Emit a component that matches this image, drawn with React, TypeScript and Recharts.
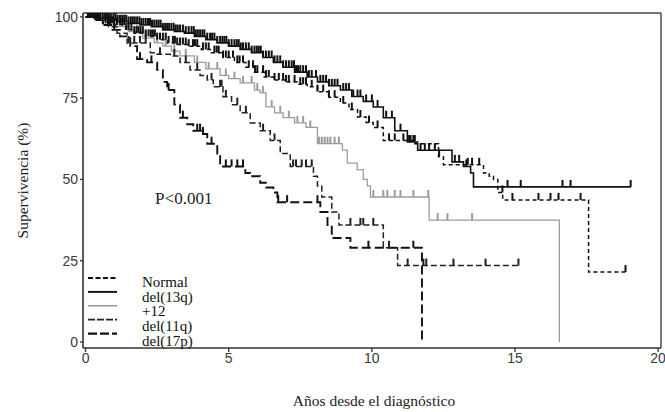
import React from 'react';
import { ComposedChart, Line, Scatter, XAxis, YAxis, ReferenceLine, ReferenceDot } from 'recharts';

// ---------- DATA ----------
const seriesNames = ['Normal', 'del(13q)', '+12', 'del(11q)', 'del(17p)'];
const xTicks = [0, 5, 10, 15, 20];
const yTicks = [0, 25, 50, 75, 100];
const xTitle = 'Años desde el diagnóstico';
const yTitle = 'Supervivencia (%)';
const pValueText = 'P<0.001';
const pValueAt = { t: 3.43, s: 44.3 };

// Normal
const normalT = [0, 0.3, 0.6, 1.0, 1.4, 1.7, 2.1, 2.5, 2.85, 3.2, 3.6, 4.04, 4.4, 4.8, 5.2, 5.6, 5.9, 6.24, 6.56, 7.0, 7.4, 7.74, 8.1, 8.5, 8.9, 9.2, 9.5, 9.8, 10.05, 10.4, 11.5, 12.33, 12.5, 13.9, 14.1, 14.25, 14.4, 14.57, 17.57, 18.85];
const normalS = [100, 99, 98, 97.5, 96, 95, 94, 93, 92, 91.5, 91, 90, 89, 87.5, 86, 84.5, 83, 81.5, 80.6, 80, 79.3, 78.5, 77, 75.3, 73.5, 71.5, 69.2, 67.5, 66, 62, 61, 57, 54.5, 52, 51, 50, 46, 43.7, 21.5, 21.5];
const normalCens = [0.1, 0.2, 0.28, 0.35, 0.42, 0.5, 0.6, 0.7, 0.78, 0.85, 0.92, 1.0, 1.1, 1.2, 1.28, 1.35, 1.42, 1.5, 1.6, 1.7, 1.78, 1.85, 1.92, 2.0, 2.1, 2.2, 2.28, 2.35, 2.42, 2.5, 2.6, 2.7, 2.8, 2.9, 3.05, 3.12, 3.2, 3.3, 3.4, 3.5, 3.6, 3.75, 3.82, 3.9, 4.1, 4.2, 4.3, 4.5, 4.58, 4.65, 4.8, 4.9, 5.0, 5.15, 5.3, 5.38, 5.5, 5.7, 5.85, 5.92, 6.0, 6.2, 6.3, 6.4, 6.6, 6.75, 6.9, 7.0, 7.1, 7.3, 7.5, 7.6, 7.7, 7.9, 8.1, 8.3, 8.5, 8.7, 9.0, 9.3, 9.6, 9.9, 10.2, 10.6, 10.8, 11.1, 12.35, 13.35, 13.5, 13.75, 14.56, 14.91, 15.82, 16.24, 16.52, 17.29, 18.86];

// del(13q)
const del13T = [0, 0.4, 0.8, 1.1, 1.5, 1.9, 2.3, 2.7, 3.1, 3.45, 3.8, 4.2, 4.6, 5.0, 5.4, 5.8, 6.2, 6.56, 6.9, 7.3, 7.74, 8.1, 8.5, 8.9, 9.3, 9.7, 10.05, 10.4, 10.8, 11.24, 11.6, 12.8, 13.2, 13.45, 13.55, 19.05];
const del13S = [100, 99.5, 99, 98.5, 98, 97.5, 97, 96, 95.5, 95, 94, 93, 92, 91, 90, 89, 87.5, 86, 84.5, 83, 81.5, 80, 78.8, 77.5, 75.5, 74, 72.3, 69, 65, 61.5, 59, 55.4, 54, 52, 47.7, 47.7];
const del13Cens = [0.08, 0.15, 0.22, 0.3, 0.38, 0.45, 0.52, 0.6, 0.68, 0.75, 0.82, 0.9, 0.98, 1.05, 1.12, 1.2, 1.28, 1.35, 1.42, 1.5, 1.58, 1.65, 1.72, 1.8, 1.88, 1.95, 2.02, 2.1, 2.18, 2.25, 2.32, 2.4, 2.48, 2.55, 2.62, 2.7, 2.78, 2.85, 2.92, 3.0, 3.08, 3.15, 3.22, 3.3, 3.4, 3.5, 3.6, 3.7, 3.78, 3.85, 3.92, 4.0, 4.08, 4.15, 4.25, 4.35, 4.42, 4.5, 4.6, 4.7, 4.78, 4.85, 4.92, 5.0, 5.1, 5.2, 5.28, 5.35, 5.42, 5.5, 5.6, 5.7, 5.8, 5.9, 5.98, 6.05, 6.12, 6.2, 6.3, 6.4, 6.5, 6.6, 6.7, 6.8, 6.9, 7.0, 7.1, 7.2, 7.28, 7.35, 7.42, 7.5, 7.6, 7.7, 7.8, 7.9, 8.05, 8.2, 8.3, 8.4, 8.5, 8.6, 8.7, 8.8, 9.0, 9.1, 9.2, 9.35, 9.5, 9.6, 9.8, 10.0, 10.2, 10.5, 10.7, 11.0, 11.3, 11.35, 11.45, 11.5, 11.7, 11.85, 12.0, 12.2, 12.9, 13.05, 13.3, 14.74, 15.2, 16.66, 16.94, 19.04];

// +12
const tri12T = [0, 0.5, 1.0, 1.5, 2.0, 2.4, 2.7, 3.0, 3.3, 3.8, 4.2, 4.7, 5.0, 5.4, 5.9, 6.1, 6.3, 6.6, 6.9, 7.3, 7.7, 8.1, 8.97, 9.14, 9.49, 9.7, 9.84, 9.95, 12.0, 16.55];
const tri12S = [100, 99, 97, 95.5, 93.5, 92, 91, 89.5, 88, 86, 84, 82, 81, 79.7, 77.5, 76.6, 72.3, 70.5, 69, 67.4, 66, 61, 59, 55, 53, 50, 48, 44.6, 37.5, 0];
const tri12Cens = [0.3, 0.6, 0.9, 1.2, 1.5, 1.8, 2.1, 2.5, 2.8, 3.1, 3.5, 3.9, 4.3, 4.6, 4.9, 5.2, 5.5, 5.8, 6.0, 6.2, 6.5, 6.8, 7.1, 7.4, 7.6, 7.85, 8.15, 8.25, 8.35, 8.45, 8.55, 8.7, 8.85, 10.05, 10.4, 10.54, 10.8, 11.0, 11.45, 11.97, 12.3, 12.64, 13.5];

// del(11q)
const del11T = [0, 0.4, 0.8, 1.1, 1.45, 2.26, 2.5, 2.96, 3.3, 3.65, 4.0, 4.25, 4.46, 4.8, 5.1, 5.4, 5.75, 6.1, 6.45, 6.8, 7.15, 7.96, 8.1, 8.25, 8.6, 8.85, 10.4, 10.9, 15.12];
const del11S = [100, 99, 97, 95, 92, 89, 88.5, 88, 86, 83.7, 82, 80.6, 78.5, 75.4, 73, 70.5, 67.4, 65, 62, 58, 54, 51, 48, 44.6, 40, 36, 29, 23.5, 23.5];
const del11Cens = [0.5, 1.0, 1.5, 1.7, 1.9, 2.1, 2.6, 3.1, 3.5, 3.9, 4.4, 4.7, 4.75, 4.9, 5.3, 5.6, 6.2, 6.6, 7.25, 7.35, 7.55, 7.7, 7.9, 9.25, 9.6, 9.7, 10.05, 10.6, 11.25, 11.8, 11.9, 12.85, 13.97, 15.12];

// del(17p)
const del17T = [0, 0.3, 0.6, 0.9, 1.2, 1.56, 1.8, 2.15, 2.5, 2.7, 2.85, 3.1, 3.3, 3.55, 3.76, 4.1, 4.25, 4.6, 4.7, 5.58, 5.75, 6.1, 6.3, 6.56, 6.7, 8.2, 8.45, 8.6, 9.25, 11.75];
const del17S = [100, 99, 97.5, 96, 94, 91, 87, 86, 83.7, 80, 77.5, 73, 69, 67, 65, 64, 61, 58, 54, 52, 51, 49, 47.5, 46, 43, 40, 36, 32, 29, 0];
const del17Cens = [0.5, 1.0, 1.9, 2.3, 2.9, 3.4, 3.9, 4.0, 4.1, 4.4, 4.9, 5.1, 5.3, 5.5, 6.73, 7.04, 8.1, 9.88, 11.45];

// ---------- STYLES ----------
const seriesStyle = [
  { stroke: '#111', dash: '4 3', width: 1.5 },
  { stroke: '#111', dash: undefined, width: 1.6 },
  { stroke: '#9c9c9c', dash: undefined, width: 1.3 },
  { stroke: '#222', dash: '6 3', width: 1.5 },
  { stroke: '#111', dash: '9 4', width: 1.9 },
];
const legendDash = ['5 2.5', undefined, undefined, '7 2', '9 3'];

const X_DOMAIN = [-0.09, 20.1];
const Y_DOMAIN = [-1.85, 101.2];

function toPoints(ts: number[], ss: number[]) {
  return ts.map((t, i) => ({ t, s: ss[i] }));
}
function censorPoints(ts: number[], ss: number[], cens: number[]) {
  return cens.map((c) => {
    let v = ss[0];
    for (let i = 0; i < ts.length; i++) if (ts[i] <= c) v = ss[i];
    return { t: c, s: v };
  });
}

const raw = [
  [normalT, normalS, normalCens],
  [del13T, del13S, del13Cens],
  [tri12T, tri12S, tri12Cens],
  [del11T, del11S, del11Cens],
  [del17T, del17S, del17Cens],
] as number[][][];

const series = raw.map(([t, s, c], i) => ({
  name: seriesNames[i],
  line: toPoints(t, s),
  cens: censorPoints(t, s, c),
  style: seriesStyle[i],
}));

const drawOrder = [2, 4, 3, 0, 1];

const tickStyle = { fontFamily: 'Liberation Sans, Arial, sans-serif', fontSize: 14, fill: '#3a3a3a' };
const serif = 'Liberation Serif, Times New Roman, serif';

function makeCensorShape(color: string) {
  return (p: any) => {
    if (p == null || typeof p.cx !== 'number' || typeof p.cy !== 'number') return <g />;
    return <rect x={p.cx - 1} y={p.cy - 7} width={2} height={7} fill={color} />;
  };
}

export default function App() {
  return (
    <div style={{ position: 'absolute', left: 0, top: 0, width: 665, height: 412, background: '#fff' }}>
      <ComposedChart width={665} height={412} margin={{ top: 13, right: 4, bottom: 0, left: 0 }}>
        <XAxis
          type="number"
          dataKey="t"
          domain={X_DOMAIN}
          ticks={xTicks}
          allowDataOverflow
          height={64}
          tickSize={4}
          tickMargin={1}
          tick={tickStyle}
          axisLine={{ stroke: '#333', strokeWidth: 1.6 }}
          tickLine={{ stroke: '#333', strokeWidth: 1.3 }}
          label={(props: any) => {
            const vb = props.viewBox || {};
            return (
              <text x={vb.x + vb.width / 2 + 2} y={vb.y + 58} textAnchor="middle" fontFamily={serif} fontSize={15.5} fill="#222">
                {xTitle}
              </text>
            );
          }}
        />
        <YAxis
          type="number"
          dataKey="s"
          domain={Y_DOMAIN}
          ticks={yTicks}
          allowDataOverflow
          width={83}
          tickSize={3}
          tickMargin={2}
          tick={tickStyle}
          axisLine={{ stroke: '#333', strokeWidth: 1.6 }}
          tickLine={{ stroke: '#333', strokeWidth: 1.3 }}
          label={(props: any) => {
            const vb = props.viewBox || {};
            const cx = 22;
            const cy = vb.y + vb.height / 2;
            return (
              <text x={cx} y={cy} transform={`rotate(-90 ${cx} ${cy})`} textAnchor="middle" dominantBaseline="central" fontFamily={serif} fontSize={15.5} fill="#222">
                {yTitle}
              </text>
            );
          }}
        />
        <ReferenceLine y={Y_DOMAIN[1]} stroke="#444" strokeWidth={1.4} />
        <ReferenceLine x={X_DOMAIN[1]} stroke="#444" strokeWidth={1.4} />
        {drawOrder.map((i) => {
          const sr = series[i];
          return (
            <Line
              key={'l' + i}
              data={sr.line}
              dataKey="s"
              name={sr.name}
              type="stepAfter"
              stroke={sr.style.stroke}
              strokeWidth={sr.style.width}
              strokeDasharray={sr.style.dash}
              dot={false}
              activeDot={false}
              isAnimationActive={false}
              legendType="none"
            />
          );
        })}
        {drawOrder.map((i) => {
          const sr = series[i];
          return (
            <Scatter
              key={'c' + i}
              name={sr.name + ' censored'}
              data={sr.cens}
              dataKey="s"
              isAnimationActive={false}
              fill={sr.style.stroke}
              shape={makeCensorShape(sr.style.stroke)}
            />
          );
        })}
        <ReferenceDot
          x={pValueAt.t}
          y={pValueAt.s}
          r={0}
          fill="none"
          stroke="none"
          label={{ value: pValueText, position: 'center', fontFamily: serif, fontSize: 17, fill: '#222' }}
        />
      </ComposedChart>
      <svg width={665} height={412} style={{ position: 'absolute', left: 0, top: 0, pointerEvents: 'none' }}>
        {series.map((sr, i) => (
          <g key={i}>
            <line
              x1={88}
              x2={117}
              y1={278 + i * 13.9}
              y2={278 + i * 13.9}
              stroke={sr.style.stroke}
              strokeWidth={sr.style.width + 0.3}
              strokeDasharray={legendDash[i]}
            />
            <text x={142} y={282 + i * 14.7} dominantBaseline="central" fontFamily={serif} fontSize={15} fill="#111">
              {sr.name}
            </text>
          </g>
        ))}
      </svg>
    </div>
  );
}
